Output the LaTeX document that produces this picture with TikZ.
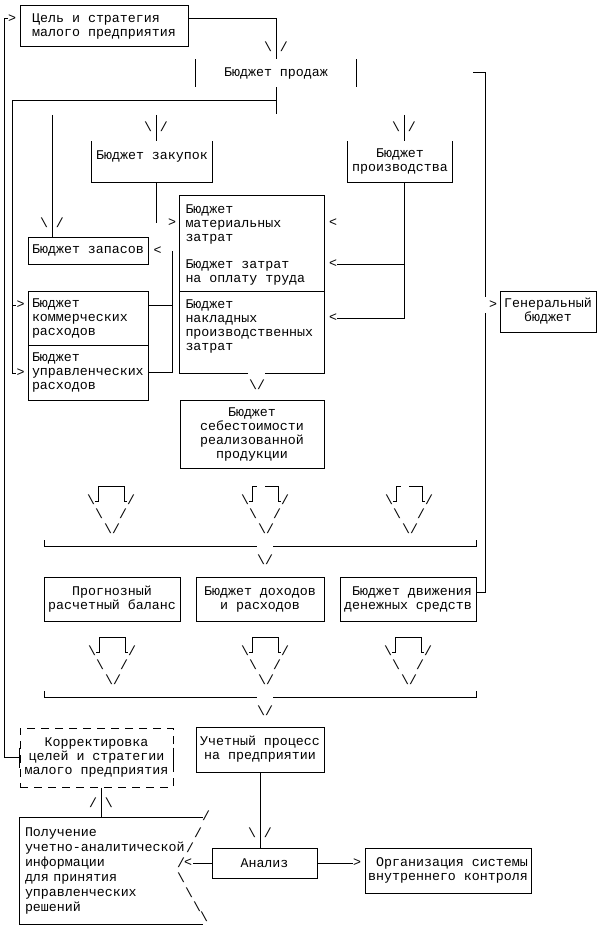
\documentclass[tikz,border=0pt]{standalone}
\usepackage{fontspec}
\setmonofont{Liberation Mono}
\usetikzlibrary{positioning, calc}
\newcommand\mono{\ttfamily\fontsize{13.3}{14}\selectfont}
\newcommand\bsl{\textbackslash}

\begin{document}
\begin{tikzpicture}[
    x=1pt, y=-1pt,
    line width=1pt,
    box/.style={draw, inner sep=0pt, font=\mono, align=center},
    frame/.style={inner sep=0pt, font=\mono, align=center},
    txt/.style={inner sep=0pt, font=\mono, align=left, anchor=west},
    sym/.style={inner sep=0pt, font=\mono},
    dashbox/.style={box, dash pattern=on 8pt off 6pt}
]
    \useasboundingbox (0,0) rectangle (598,925);

    % цель и бюджет продаж
    \node[box, minimum width=168, minimum height=41, align=left] (goal) at (104,26.5) {Цель и стратегия\\малого предприятия};
    \node[frame, minimum width=160, minimum height=27] (sales) at (276,73.5) {Бюджет продаж};
    \draw (sales.north west) -- (sales.south west);
    \draw (sales.north east) -- (sales.south east);
    \draw ([yshift=7.5pt]goal.east) -| (sales.north);
    \node[sym] at (276,47) {\bsl{} /};

    % шина после бюджета продаж
    \coordinate (busL) at (12,101);
    \coordinate (busR) at (276,101);
    \draw (sales.south) -- (276,114);
    \draw (busR) -- (busL) -- (12,373) -- (16,373);
    \draw (12,305) -- (16,305);
    \node[sym] at (20.5,305) {>};
    \node[sym] at (20.5,373) {>};

    % закупки, производство, запасы
    \node[frame, minimum width=120, minimum height=40] (purch) at (152,162) {Бюджет закупок\\~};
    \draw (purch.north west) |- (purch.south east) -- (purch.north east);
    \node[frame, minimum width=104, minimum height=40] (prod) at (400,162) {Бюджет\\производства};
    \draw (prod.north west) |- (prod.south east) -- (prod.north east);
    \node[box, minimum width=120, minimum height=27] (stock) at (88,250.5) {Бюджет запасов};

    \coordinate (stockIn) at (52,115);
    \coordinate (purchIn) at (156,115);
    \coordinate (prodIn) at (404,115);
    \draw (stockIn) -- (stockIn |- stock.north);
    \draw (purchIn) -- (purchIn |- purch.north);
    \draw (prodIn) -- (prodIn |- prod.north);
    \node[sym] at (52,223) {\bsl{} /};
    \node[sym] at (156,127) {\bsl{} /};
    \node[sym] at (404,127) {\bsl{} /};

    % затраты
    \node[frame, minimum width=144, minimum height=177] (costs) at (252,284.5) {};
    \draw ([xshift=-4pt]costs.south) -| (costs.north west) -| (costs.south east) -- ([xshift=13pt]costs.south);
    \draw ([yshift=-6.5pt]costs.west) -- ([yshift=-6.5pt]costs.east);
    \node[txt] (mat) at (185,224) {Бюджет\\материальных\\затрат};
    \node[txt] (labor) at (185,272) {Бюджет затрат\\на оплату труда};
    \node[txt] (ovh) at (185,326) {Бюджет\\накладных\\производственных\\затрат};

    \coordinate (purchOut) at (156,223);
    \draw (purchIn |- purch.south) -- (purchOut);
    \node[sym] at (172,223) {>};
    \node[sym] at (333,223) {<};
    \coordinate (prodA) at (404,264);
    \coordinate (prodB) at (404,318);
    \draw (prodIn |- prod.south) -- (prodB) -- (337,318);
    \draw (prodA) -- (337,264);
    \node[sym] at (333,264) {<};
    \node[sym] at (333,318) {<};

    % коммерческие и управленческие
    \node[box, minimum width=120, minimum height=54, text width=112, align=left] (comm) at (88,318) {Бюджет\\коммерческих\\расходов};
    \node[box, minimum width=120, minimum height=55, text width=112, align=left] (mgmt) at (88,372.5) {Бюджет\\управленческих\\расходов};
    \coordinate (sideUp) at (172,251);
    \draw ([yshift=13pt]comm.east) -- (172,305);
    \draw (mgmt.east) -- (mgmt.east -| sideUp) -- (sideUp);
    \node[sym] at (157.5,251) {<};

    % генеральный бюджет
    \node[box, minimum width=96, minimum height=41] (gen) at (548,311.5) {Генеральный\\бюджет};
    \draw (473,73) -- (485,73) -- (485,297);
    \node[sym] at (493,305) {>};

    % себестоимость
    \node[box, minimum width=144, minimum height=68] (cogs) at (252,434) {Бюджет\\себестоимости\\реализованной\\продукции};
    \node[sym] at (257,385) {\bsl/};

    % стрелки
    \foreach \cx/\ty/\gp in {111/486/0, 265/486/1, 409/486/1, 112/637/0, 265/637/0, 408/637/0} {
        \ifnum\gp=0
            \draw (\cx-16,\ty+15) -- (\cx-13,\ty+15) -- (\cx-13,\ty) -- (\cx+13,\ty) -- (\cx+13,\ty+15) -- (\cx+16,\ty+15);
        \else
            \draw (\cx-16,\ty+15) -- (\cx-13,\ty+15) -- (\cx-13,\ty) -- (\cx-8,\ty);
            \draw (\cx,\ty) -- (\cx+13,\ty) -- (\cx+13,\ty+15) -- (\cx+16,\ty+15);
        \fi
        \node[sym] at (\cx-20,\ty+14) {\bsl};
        \node[sym] at (\cx+20,\ty+14) {/};
        \node[sym] at (\cx-12,\ty+28) {\bsl};
        \node[sym] at (\cx+12,\ty+28) {/};
        \node[sym] at (\cx+1,\ty+43) {\bsl/};
    }

    % шины
    \foreach \by in {546, 697} {
        \draw (44,\by-6) -- (44,\by) -- (257,\by);
        \draw (273,\by) -- (476,\by) -- (476,\by-6);
        \node[sym] at (265,\by+14) {\bsl/};
    }

    % бюджеты второго уровня
    \node[box, minimum width=136, minimum height=44] (bal) at (112,599) {Прогнозный\\расчетный баланс};
    \node[box, minimum width=128, minimum height=44] (inc) at (260,599) {Бюджет доходов\\и расходов};
    \node[box, minimum width=136, minimum height=44, align=right] (cash) at (408,599) {Бюджет движения\\денежных средств};
    \draw (485,313) -- (485,592) -- ([yshift=7pt]cash.east);

    % корректировка
    \node[dashbox, minimum width=153, minimum height=59] (corr) at (96.5,757.5) {Корректировка\\целей и стратегии\\малого предприятия};
    \draw ([yshift=10pt]corr.west) -- ([yshift=-10pt]corr.west);
    \draw ([yshift=10pt]corr.east) -- ([yshift=-10pt]corr.east);
    \draw (8,19) -- (4,19) -- (4,757.5) -- (corr.west);
    \node[sym] at (12,19) {>};

    \node[box, minimum width=128, minimum height=45] (acc) at (260,749.5) {Учетный процесс\\на предприятии};

    % анализ
    \node[box, minimum width=105, minimum height=30] (anal) at (264.5,863) {Анализ};
    \node[box, minimum width=166, minimum height=45, align=right] (org) at (448,870.5) {Организация системы\\внутреннего контроля};
    \draw (acc.south) -- (acc.south |- anal.north);
    \node[sym] at (260,833) {\bsl{} /};
    \draw (anal.east) -- (353,863);
    \node[sym] at (357,863) {>};
    \draw (anal.west) -- (193,863);
    \node[sym] at (188,863) {<};

    % получение информации
    \node[frame, minimum width=182, minimum height=106, text width=172, align=left,
          font=\ttfamily\fontsize{13.3}{15}\selectfont] (info) at (111,871) {Получение\\учетно-аналитической\\информации\\для принятия\\управленческих\\решений};
    \draw (info.north east) -- (info.north west) -- (info.south west) -- (info.south east);
    \foreach \sx/\sy in {206/816, 198/833, 190/848, 181/863} \node[sym] at (\sx,\sy) {/};
    \foreach \sx/\sy in {181/878, 189/893, 197/907, 204/917} \node[sym] at (\sx,\sy) {\bsl};
    \coordinate (corrOut) at ([xshift=4.5pt]corr.south);
    \draw (corrOut) -- (corrOut |- info.north);
    \node[sym] at (101,803) {/ \bsl};
\end{tikzpicture}
\end{document}
